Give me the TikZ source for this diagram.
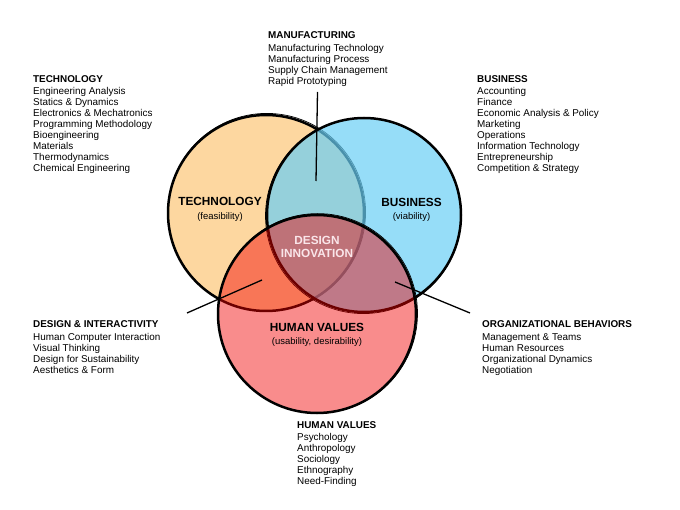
\documentclass[tikz,border=0pt]{standalone}
\usepackage{fontspec}
\setmainfont{Liberation Sans}
\usepackage{xcolor}
\usetikzlibrary{calc}
\definecolor{techfill}{RGB}{253,215,160}
\definecolor{busfill}{RGB}{105,206,245}
\definecolor{humfill}{RGB}{242,0,0}
\definecolor{innotext}{RGB}{250,230,234}

\begin{document}
\begin{tikzpicture}[x=1pt,y=-1pt,
                    ring/.style={draw=black,line width=2.5pt},
                    sketch/.style={draw=black,line width=0.7pt},
                    list node/.style={anchor=north west,align=left,inner sep=0pt,font=\fontsize{9.9}{11}\selectfont},
                    big label/.style={align=center,inner sep=0pt,font=\fontsize{11.8}{13.5}\selectfont\bfseries},
                    pointer/.style={draw=black,line width=1.3pt}]
\useasboundingbox (0,0) rectangle (680,510);

\path[ring,fill=techfill] (266,213) circle[radius=98pt];
\path[sketch] (266.8,212.2) circle[radius=98.8pt];
\path[ring,fill=busfill,fill opacity=0.7] (364,215) circle[radius=97pt];
\path[sketch] (363.3,215.8) circle[radius=97.8pt];
\path[ring,fill=humfill,fill opacity=0.45] (317,314) circle[radius=99pt];
\path[sketch] (317.7,313.4) circle[radius=99.8pt];

\node[big label] (tech label) at (220,209.5) {TECHNOLOGY\\{\fontsize{9.5}{11}\selectfont\mdseries (feasibility)}};
\node[big label] (bus label) at (411.5,210) {BUSINESS\\{\fontsize{9.5}{11}\selectfont\mdseries (viability)}};
\node[big label,text=innotext] (design label) at (317,247) {DESIGN\\INNOVATION};
\node[big label] (hum label) at (317,335) {HUMAN VALUES\\{\fontsize{9.5}{11}\selectfont\mdseries (usability, desirability)}};

\node[list node] (tech list) at (33,75) {\textbf{TECHNOLOGY}\\[1.5pt]
  Engineering Analysis\\ Statics \& Dynamics\\ Electronics \& Mechatronics\\
  Programming Methodology\\ Bioengineering\\ Materials\\ Thermodynamics\\ Chemical Engineering};
\node[list node] (mfg list) at (268,31.5) {\textbf{MANUFACTURING}\\[1.5pt]
  Manufacturing Technology\\ Manufacturing Process\\ Supply Chain Management\\ Rapid Prototyping};
\node[list node] (bus list) at (477,75) {\textbf{BUSINESS}\\[1.5pt]
  Accounting\\ Finance\\ Economic Analysis \& Policy\\ Marketing\\ Operations\\
  Information Technology\\ Entrepreneurship\\ Competition \& Strategy};
\node[list node] (design list) at (33,320.5) {\textbf{DESIGN \& INTERACTIVITY}\\[1.5pt]
  Human Computer Interaction\\ Visual Thinking\\ Design for Sustainability\\ Aesthetics \& Form};
\node[list node] (org list) at (482,320.5) {\textbf{ORGANIZATIONAL BEHAVIORS}\\[1.5pt]
  Management \& Teams\\ Human Resources\\ Organizational Dynamics\\ Negotiation};
\node[list node] (hv list) at (297,421) {\textbf{HUMAN VALUES}\\[1.5pt]
  Psychology\\ Anthropology\\ Sociology\\ Ethnography\\ Need-Finding};

\coordinate (mfg top) at (317.5,92);
\coordinate (mfg tip) at (316,181);
\coordinate (design top) at (187,313);
\coordinate (design tip) at (262,280);
\coordinate (org top) at (470,313);
\coordinate (org tip) at (395,282);

\path[pointer]
  (mfg top) edge (mfg tip)
  (design top) edge (design tip)
  (org top) edge (org tip);
\end{tikzpicture}
\end{document}
